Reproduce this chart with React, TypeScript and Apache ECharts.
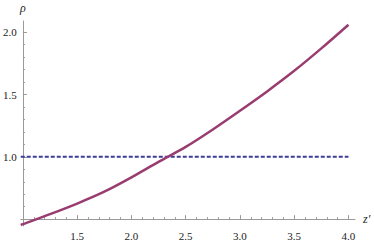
import React, { useEffect, useRef } from "react";
import * as echarts from "echarts";

// Data (real values)
const Z = [0.98, 1.0, 1.25, 1.5, 1.75, 2.0, 2.25, 2.5, 2.75, 3.0, 3.25, 3.5, 3.75, 4.0];
const RHO = [0.453, 0.46, 0.54, 0.625, 0.72, 0.835, 0.96, 1.08, 1.22, 1.37, 1.525, 1.69, 1.87, 2.06];
const REF_Z = [0.98, 4.0];
const REF_RHO = [1.0, 1.0];

const X_MAJOR = [1.5, 2.0, 2.5, 3.0, 3.5, 4.0];
const X_MINOR = [1.1, 1.2, 1.3, 1.4, 1.6, 1.7, 1.8, 1.9, 2.1, 2.2, 2.3, 2.4, 2.6, 2.7, 2.8, 2.9, 3.1, 3.2, 3.3, 3.4, 3.6, 3.7, 3.8, 3.9];
const Y_MAJOR = [1.0, 1.5, 2.0];
const Y_MINOR = [0.6, 0.7, 0.8, 0.9, 1.1, 1.2, 1.3, 1.4, 1.6, 1.7, 1.8, 1.9];

// axes origin (Mathematica-style origin at (1.0, 0.5))
const X0 = 1.0;
const Y0 = 0.5;

const AXIS_COLOR = "#9a9a9a";
const LABEL_COLOR = "#222222";
const FONT = "Times New Roman";

export default function App() {
  const ref = useRef<HTMLDivElement>(null);
  useEffect(() => {
    if (!ref.current) return;
    const chart = echarts.init(ref.current, null, { renderer: "svg" });
    const sx = (v: number) => +(v - X0).toFixed(4);
    const sy = (v: number) => +(v - Y0).toFixed(4);
    const xMin = sx(0.98);
    const xMax = sx(4.06);
    const yMin = sy(0.445);
    const yMax = sy(2.09);
    chart.setOption({
      animation: false,
      textStyle: { fontFamily: FONT },
      grid: { left: 16, right: 19, top: 21, bottom: 10 },
      xAxis: [
        {
          type: "value",
          gridIndex: 0,
          position: "bottom",
          min: xMin,
          max: xMax,
          axisLine: { show: true, onZero: true, lineStyle: { color: AXIS_COLOR, width: 1 } },
          axisTick: {
            show: true,
            inside: true,
            length: 4,
            customValues: X_MAJOR.map(sx),
            lineStyle: { color: AXIS_COLOR },
          },
          axisLabel: {
            show: true,
            customValues: X_MAJOR.map(sx),
            formatter: (v: number) => (v + X0).toFixed(1),
            fontFamily: FONT,
            fontSize: 11,
            color: LABEL_COLOR,
            margin: 4,
          },
          splitLine: { show: false },
          name: "z′",
          nameLocation: "end",
          nameGap: 8,
          nameTextStyle: { fontFamily: FONT, fontStyle: "italic", fontSize: 12, color: LABEL_COLOR },
        },
        {
          type: "value",
          gridIndex: 0,
          position: "bottom",
          min: xMin,
          max: xMax,
          axisLine: { show: false, onZero: true },
          axisTick: {
            show: true,
            inside: true,
            length: 2,
            customValues: X_MINOR.map(sx),
            lineStyle: { color: AXIS_COLOR },
          },
          axisLabel: { show: false },
          splitLine: { show: false },
        },
      ],
      yAxis: [
        {
          type: "value",
          gridIndex: 0,
          position: "left",
          min: yMin,
          max: yMax,
          axisLine: { show: true, onZero: true, lineStyle: { color: AXIS_COLOR, width: 1 } },
          axisTick: {
            show: true,
            inside: true,
            length: 4,
            customValues: Y_MAJOR.map(sy),
            lineStyle: { color: AXIS_COLOR },
          },
          axisLabel: {
            show: true,
            customValues: Y_MAJOR.map(sy),
            formatter: (v: number) => (v + Y0).toFixed(1),
            fontFamily: FONT,
            fontSize: 11,
            color: LABEL_COLOR,
            margin: 4,
          },
          splitLine: { show: false },
          name: "ρ",
          nameLocation: "end",
          nameGap: 7,
          nameTextStyle: { fontFamily: FONT, fontStyle: "italic", fontSize: 12, color: LABEL_COLOR },
        },
        {
          type: "value",
          gridIndex: 0,
          position: "left",
          min: yMin,
          max: yMax,
          axisLine: { show: false, onZero: true },
          axisTick: {
            show: true,
            inside: true,
            length: 2,
            customValues: Y_MINOR.map(sy),
            lineStyle: { color: AXIS_COLOR },
          },
          axisLabel: { show: false },
          splitLine: { show: false },
        },
      ],
      series: [
        {
          type: "line",
          xAxisIndex: 0,
          yAxisIndex: 0,
          data: REF_Z.map((z, i) => [sx(z), sy(REF_RHO[i])]),
          showSymbol: false,
          lineStyle: { color: "#3d3d99", width: 2, type: [4, 2] },
          z: 2,
        },
        {
          type: "line",
          xAxisIndex: 0,
          yAxisIndex: 0,
          data: Z.map((z, i) => [sx(z), sy(RHO[i])]),
          showSymbol: false,
          smooth: 0.3,
          lineStyle: { color: "#993d71", width: 2.5 },
          z: 3,
        },
      ],
    });
    return () => chart.dispose();
  }, []);
  return (
    <div
      ref={ref}
      style={{ position: "absolute", left: 0, top: 0, width: 374, height: 241 }}
    />
  );
}
